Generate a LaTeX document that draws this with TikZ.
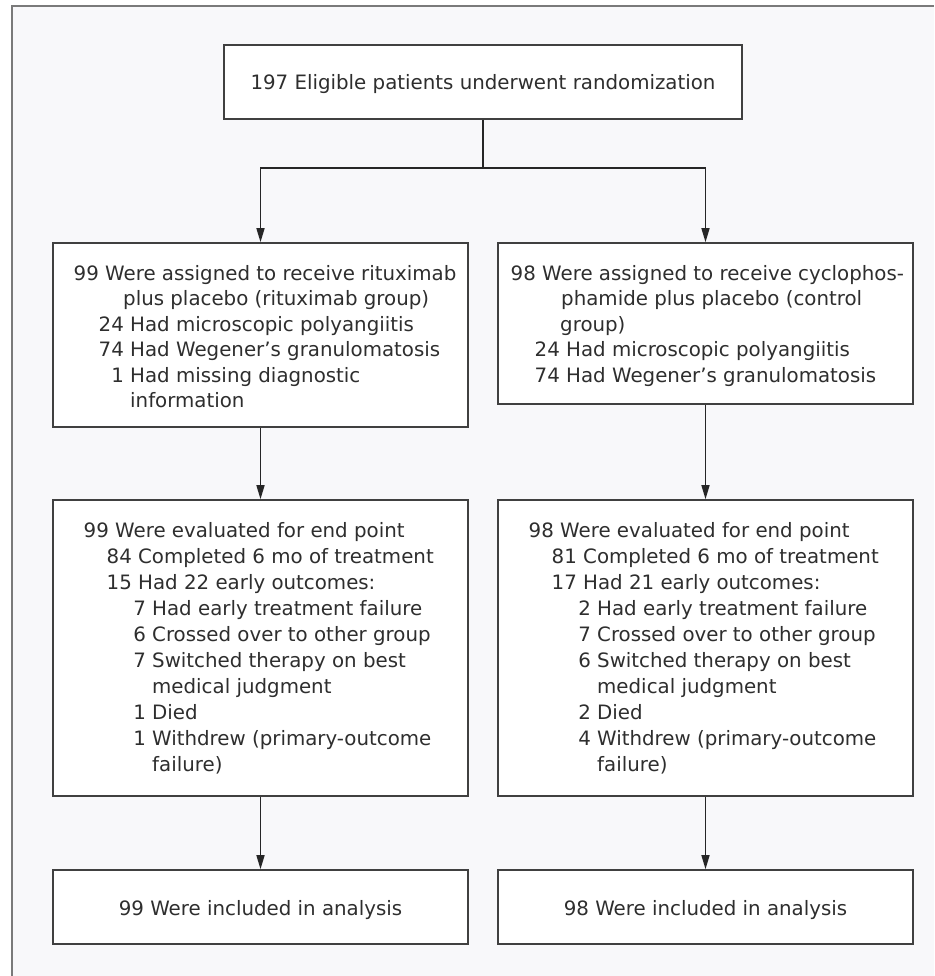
\documentclass[tikz,border=0pt]{standalone}
\usepackage{fontspec}
\setmainfont{DejaVu Sans}
\usetikzlibrary{arrows.meta}
\definecolor{framegray}{HTML}{7A7A7A}
\definecolor{bgpanel}{HTML}{F8F8FA}
\definecolor{boxline}{HTML}{404040}
\definecolor{txtcol}{HTML}{2E2E2E}
\begin{document}
\begin{tikzpicture}[x=1pt,y=-1pt,
  box/.style={draw=boxline, line width=1.6pt, fill=white, rectangle, inner sep=0pt},
  lbl/.style={text=txtcol, font=\fontsize{19.8}{26}\selectfont, inner sep=0pt, anchor=base west},
  ctr/.style={text=txtcol, font=\fontsize{19.8}{26}\selectfont, inner sep=0pt, anchor=base},
  conn/.style={draw=black!85, line width=1.5pt},
  arr/.style={conn, -{Triangle[length=14pt,width=8pt]}}]
\useasboundingbox (0,0) rectangle (934,976);
\fill[white] (0,0) rectangle (934,976);
\fill[bgpanel] (12,6) rectangle (934,976);
\draw[framegray, line width=2pt] (12,976) -- (12,6) -- (934,6);

% boxes
\node[box, minimum width=518pt, minimum height=74pt] (top) at (483,82) {};
\node[box, minimum width=415pt, minimum height=184pt] (b2L) at (260.5,335) {};
\node[box, minimum width=415pt, minimum height=161pt] (b2R) at (705.5,323.5) {};
\node[box, minimum width=415pt, minimum height=296pt] (b3L) at (260.5,648) {};
\node[box, minimum width=415pt, minimum height=296pt] (b3R) at (705.5,648) {};
\node[box, minimum width=415pt, minimum height=74pt] (b4L) at (260.5,907) {};
\node[box, minimum width=415pt, minimum height=74pt] (b4R) at (705.5,907) {};

% connectors
\coordinate (split) at (483,168);
\draw[conn] (top.south) -- (split);
\draw[arr] (split) -| (b2L.north);
\draw[arr] (split) -| (b2R.north);
\draw[arr] (b2L.south) -- (b3L.north);
\draw[arr] (b2R.south) -- (b3R.north);
\draw[arr] (b3L.south) -- (b4L.north);
\draw[arr] (b3R.south) -- (b4R.north);

% top text
\node[ctr] (toptxt) at (483,90) {197 Eligible patients underwent randomization};

% box 2 left
\node[lbl] (l2a) at (105,280) {\llap{99 }Were assigned to receive rituximab};
\node[lbl] (l2b) at (123,305.5) {plus placebo (rituximab group)};
\node[lbl] (l2c) at (130,331) {\llap{24 }Had microscopic polyangiitis};
\node[lbl] (l2d) at (130,356.5) {\llap{74 }Had Wegener’s granulomatosis};
\node[lbl] (l2e) at (130,382) {\llap{1 }Had missing diagnostic};
\node[lbl] (l2f) at (130,407.5) {information};

% box 2 right
\node[lbl] (r2a) at (542,280) {\llap{98 }Were assigned to receive cyclophos-};
\node[lbl] (r2b) at (561,305.5) {phamide plus placebo (control};
\node[lbl] (r2c) at (560,331) {group)};
\node[lbl] (r2d) at (566,356.5) {\llap{24 }Had microscopic polyangiitis};
\node[lbl] (r2e) at (566,382) {\llap{74 }Had Wegener’s granulomatosis};

% box 3 left
\node[lbl] (l3a) at (115,537) {\llap{99 }Were evaluated for end point};
\node[lbl] (l3b) at (138,563) {\llap{84 }Completed 6 mo of treatment};
\node[lbl] (l3c) at (138,589) {\llap{15 }Had 22 early outcomes:};
\node[lbl] (l3d) at (152,615) {\llap{7 }Had early treatment failure};
\node[lbl] (l3e) at (152,641) {\llap{6 }Crossed over to other group};
\node[lbl] (l3f) at (152,667) {\llap{7 }Switched therapy on best};
\node[lbl] (l3g) at (152,693) {medical judgment};
\node[lbl] (l3h) at (152,719) {\llap{1 }Died};
\node[lbl] (l3i) at (152,745) {\llap{1 }Withdrew (primary-outcome};
\node[lbl] (l3j) at (152,771) {failure)};

% box 3 right
\node[lbl] (r3a) at (560,537) {\llap{98 }Were evaluated for end point};
\node[lbl] (r3b) at (583,563) {\llap{81 }Completed 6 mo of treatment};
\node[lbl] (r3c) at (583,589) {\llap{17 }Had 21 early outcomes:};
\node[lbl] (r3d) at (597,615) {\llap{2 }Had early treatment failure};
\node[lbl] (r3e) at (597,641) {\llap{7 }Crossed over to other group};
\node[lbl] (r3f) at (597,667) {\llap{6 }Switched therapy on best};
\node[lbl] (r3g) at (597,693) {medical judgment};
\node[lbl] (r3h) at (597,719) {\llap{2 }Died};
\node[lbl] (r3i) at (597,745) {\llap{4 }Withdrew (primary-outcome};
\node[lbl] (r3j) at (597,771) {failure)};

% bottom texts
\node[ctr] (b4Ltxt) at (260.5,915) {99 Were included in analysis};
\node[ctr] (b4Rtxt) at (705.5,915) {98 Were included in analysis};
\end{tikzpicture}
\end{document}
